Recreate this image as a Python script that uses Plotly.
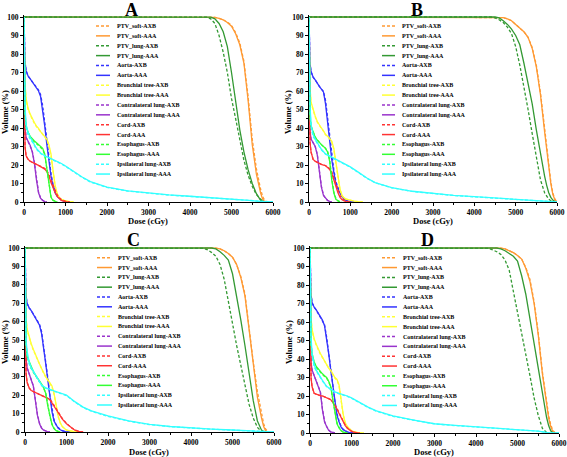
import plotly.graph_objects as go

W, H = 567, 457

# ---------------- data ----------------
OAR_DOSE = [0, 10, 25, 50, 100, 150, 200, 250, 300, 350, 400, 450, 500, 550, 600, 650, 700,
            750, 800, 850, 900, 1000, 1100, 1200, 1300, 1400, 1500]
LUNG_DOSE = [0, 10, 25, 50, 100, 150, 200, 300, 400, 500, 600, 700, 800, 900, 1000, 1200, 1400,
             1600, 1800, 2000, 2500, 3000, 3500, 4000, 4500, 5000, 5500, 5700, 5800, 6000]
PTV_DOSE = [0, 4200, 4300, 4400, 4500, 4600, 4700, 4800, 4900, 5000, 5100, 5200, 5300, 5400,
            5500, 5600, 5700, 5750, 5800, 5850, 5900, 5950, 6000]

# Panel A
A_PTV_SOFT_AXB = [100, 100, 100, 100, 100, 99.8, 99.3, 98.5, 97.2, 95.5, 91.5, 86, 76, 57, 34, 18, 7, 3, 0.8, 0.1, 0]
A_PTV_SOFT_AAA = [100, 100, 100, 100, 100, 99.8, 99.3, 98.5, 97, 95, 91, 85, 75, 55, 31, 15, 5, 1.5, 0.2, 0]
A_PTV_LUNG_AXB = [100, 100, 100, 99.9, 99, 96.5, 90, 81, 70, 56, 45, 33, 22.5, 14.5, 8.5, 4, 1.2, 0.4, 0]
A_PTV_LUNG_AAA = [100, 100, 100, 100, 99.9, 99, 96.5, 92, 84, 70, 55, 39, 27, 17.5, 10, 4.5, 1, 0.3, 0]
A_AORTA_AXB = [100, 88, 76, 71, 68, 66.5, 65, 63.5, 62, 60.5, 58, 52, 43, 33, 24, 15.5, 9.5, 5.5, 3.2, 2, 1.1, 0.3, 0]
A_AORTA_AAA = [100, 88, 76, 71, 68, 66.5, 65, 63.5, 62, 60, 57, 50, 41, 31, 22, 14, 8.5, 5, 3, 1.8, 1, 0.2, 0]
A_BRONCH_AXB = [100, 80, 63, 55, 50, 47, 44.5, 42.5, 40.8, 39.5, 38, 36.5, 35.2, 33.5, 30.5, 25, 16, 8.5, 4.2, 2.3, 1.3, 0.5, 0.1, 0]
A_BRONCH_AAA = [100, 80, 64, 56, 50.5, 47.5, 45, 43, 41, 39.8, 38, 36.5, 35.5, 34, 31, 26, 17, 9, 4.5, 2.5, 1.5, 0.6, 0.2, 0]
A_CONTRA_AXB = [100, 70, 40, 35, 32.5, 30.5, 27.5, 21.5, 12.5, 5.3, 2.2, 0.9, 0.3, 0]
A_CONTRA_AAA = [100, 70, 40, 35, 32.5, 30.5, 27, 21, 12, 5, 2, 0.8, 0.2, 0]
A_CORD_AXB = [100, 55, 30, 25, 23, 22, 21.3, 20.8, 20.3, 19.8, 19.3, 18.7, 18.2, 17, 15, 12, 9, 6, 3.8, 2.3, 1.3, 0.4, 0]
A_CORD_AAA = [100, 55, 30, 25, 23, 22, 21.3, 20.8, 20.3, 19.8, 19.2, 18.5, 17.8, 16.5, 14, 10.5, 7.5, 5, 3, 1.8, 0.9, 0.2, 0]
A_ESOPH_AXB = [100, 70, 47, 40, 37, 35, 33.5, 32.5, 31.5, 30.5, 29.5, 28.5, 25.5, 18, 8.5, 3, 1, 0.3, 0]
A_ESOPH_AAA = [100, 70, 48, 41, 37.5, 35.5, 34, 33, 32, 31, 30, 29, 26, 18, 8, 2.5, 0.8, 0.2, 0]
A_IPSI_AXB = [100, 74, 50, 40, 36, 34, 32.5, 28.5, 26.2, 24.8, 23.8, 22.8, 21.8, 20.6, 19.3, 16.3, 13.3, 10.8, 9.2, 7.9, 5.9, 4.6, 3.7, 3, 2.3, 1.5, 0.7, 0.3, 0.1, 0]
A_IPSI_AAA = [100, 75, 52, 42, 37.5, 35, 33, 29, 26.5, 25, 24, 23, 22, 20.8, 19.5, 16.5, 13.5, 11, 9.3, 8, 6, 4.7, 3.8, 3.1, 2.4, 1.6, 0.7, 0.3, 0.1, 0]

# Panel B
B_PTV_SOFT_AXB = [100, 100, 100, 100, 100, 100, 99.7, 99, 98, 96, 94, 92, 89, 83.5, 74, 59, 40, 30, 19.5, 11, 4.8, 1.5, 0.1]
B_PTV_SOFT_AAA = [100, 100, 100, 100, 100, 100, 99.7, 99, 98, 96, 94, 92, 89, 83, 73, 58, 38, 28, 18, 10, 4, 1.2, 0]
B_PTV_LUNG_AXB = [100, 100, 100, 100, 99.5, 98.5, 97, 94.5, 91, 84, 74, 63, 50, 37, 24, 12, 5, 3, 1.5, 0.7, 0.2, 0]
B_PTV_LUNG_AAA = [100, 100, 100, 100, 100, 99.5, 98, 96, 93.5, 90, 85, 75, 64, 53, 39, 26, 14, 9, 5, 2.5, 1, 0.2, 0]
B_AORTA_AXB = [100, 88, 75, 70.5, 67.5, 66, 64, 62.5, 61, 59.8, 55, 45, 34, 25, 17.5, 11, 7.5, 5, 3, 1.8, 0.9, 0.2, 0]
B_AORTA_AAA = [100, 88, 75, 70.5, 67.5, 66, 64, 62.5, 61, 59.5, 53, 42, 31, 23, 16, 10, 7, 4.5, 2.8, 1.7, 0.8, 0.2, 0]
B_BRONCH_AXB = [100, 78, 61, 53.5, 49.5, 46, 43.2, 41.2, 39.8, 38.3, 36.4, 35.4, 34.3, 32.5, 28.5, 21, 12.5, 6.6, 3.3, 2.1, 1.5, 0.8, 0.4, 0.1, 0]
B_BRONCH_AAA = [100, 78, 62, 54, 50, 46.5, 43.5, 41.5, 40, 38.5, 36.5, 35.5, 34.5, 33, 29, 22, 13, 7, 3.5, 2.2, 1.6, 0.9, 0.5, 0.2, 0]
B_CONTRA_AXB = [100, 65, 38, 34, 32, 30, 26, 16.5, 8.5, 3.8, 1.9, 0.9, 0.3, 0]
B_CONTRA_AAA = [100, 65, 38, 34, 32, 30, 25.5, 16, 8, 3.5, 1.8, 0.8, 0.3, 0]
B_CORD_AXB = [100, 55, 32, 27, 23, 22, 21.3, 20.8, 20.3, 20, 19.7, 18.9, 18.1, 16.5, 13.5, 10, 6.5, 3.5, 1.8, 0.9, 0.4, 0]
B_CORD_AAA = [100, 55, 32, 27, 23, 22, 21.3, 20.8, 20.3, 20, 19.6, 18.6, 17.6, 15.5, 12, 8, 5, 2.5, 1.2, 0.6, 0.2, 0]
B_ESOPH_AXB = [100, 68, 46, 41, 37.5, 35, 33.5, 32, 31, 30, 29, 27.3, 23, 13, 5.5, 2, 0.6, 0.1, 0]
B_ESOPH_AAA = [100, 68, 46, 41, 37.5, 35, 33.5, 32, 31, 30, 29, 27, 22, 12, 5, 1.5, 0.5, 0]
B_IPSI_AXB = [100, 74, 50, 40, 35.5, 33.5, 31.5, 28.2, 25.8, 24.6, 23.8, 22.3, 21.3, 19.8, 18.8, 15.8, 12.8, 10.4, 8.9, 7.7, 5.7, 4.4, 3.5, 2.8, 2.1, 1.4, 0.6, 0.3, 0.15, 0]
B_IPSI_AAA = [100, 75, 52, 42, 36.5, 34, 32, 28.5, 26, 24.8, 24, 22.5, 21.5, 20, 19, 16, 13, 10.5, 9, 7.8, 5.8, 4.5, 3.6, 2.9, 2.2, 1.4, 0.6, 0.3, 0.15, 0]

# Panel C
C_PTV_SOFT_AXB = [100, 100, 100, 100, 100, 99.9, 99.5, 98.5, 97, 95, 91, 84.5, 75, 56, 38, 22, 9.5, 4.5, 1.5, 0.2, 0]
C_PTV_SOFT_AAA = [100, 100, 100, 100, 100, 99.9, 99.5, 98.5, 97, 95, 91, 84, 74, 55, 36, 19, 7.6, 3, 0.5, 0]
C_PTV_LUNG_AXB = [100, 100, 99.8, 99, 97.5, 95.5, 91, 83, 72, 59, 47, 36, 25, 15, 7.6, 2.5, 0.3, 0]
C_PTV_LUNG_AAA = [100, 100, 100, 100, 100, 99.5, 98, 96, 93.5, 86, 74, 61, 47, 31, 17, 6, 1, 0.3, 0]
C_AORTA_AXB = [100, 87, 74, 70, 67.5, 66, 64, 62, 60.5, 58.5, 54.5, 47, 38.5, 29.5, 20, 12, 6.5, 3.8, 2.2, 1.3, 0.7, 0.1, 0]
C_AORTA_AAA = [100, 87, 74, 70, 67.5, 66, 64, 62, 60.5, 58, 53.5, 46, 37, 28, 19, 11, 6, 3.5, 2, 1.2, 0.6, 0.1, 0]
C_BRONCH_AXB = [100, 80, 62, 55.5, 51, 47.5, 44.5, 41.8, 39.3, 36.8, 34.3, 31.8, 29.8, 28.2, 26.7, 24.5, 20.5, 13.5, 8.2, 4.8, 2.9, 1, 0.4, 0.1, 0]
C_BRONCH_AAA = [100, 80, 62, 56, 51.5, 48, 45, 42, 39.5, 37, 34.5, 32, 30, 28.5, 27, 25, 21, 14, 8.5, 5, 3, 1, 0.4, 0.1, 0]
C_CONTRA_AXB = [100, 65, 40, 35, 31.5, 28, 25.2, 17.5, 9.5, 4.8, 2.2, 1.1, 0.4, 0.1, 0]
C_CONTRA_AAA = [100, 65, 40, 35, 31.5, 28, 25, 17, 9, 4.5, 2, 1, 0.4, 0.1, 0]
C_CORD_AXB = [100, 55, 32, 27, 24, 22.5, 22, 21.5, 21, 20.5, 20, 19.5, 19, 18.4, 17.7, 16.3, 14.4, 12.7, 10.8, 9, 7.3, 4.7, 2.6, 1.1, 0.3, 0]
C_CORD_AAA = [100, 55, 32, 27, 24, 22.5, 22, 21.5, 21, 20.5, 20, 19.5, 19, 18.3, 17.5, 16, 14, 12.3, 10.5, 8.7, 7, 4.5, 2.5, 1, 0.3, 0]
C_ESOPH_AXB = [100, 70, 48, 41, 37.5, 34.5, 32.5, 30.7, 29.2, 27.3, 25.8, 23.8, 21, 14.5, 8.5, 4.3, 2, 0.8, 0.2, 0]
C_ESOPH_AAA = [100, 70, 48, 41, 38, 35, 33, 31, 29.5, 27.5, 26, 24, 21, 14, 8, 4, 1.8, 0.7, 0.2, 0]
C_IPSI_AXB = [100, 74, 49, 42, 37, 34.5, 32.5, 28.7, 25.3, 23.8, 22.8, 22.1, 21.4, 20.7, 19.8, 16.3, 13.3, 11.3, 9.8, 8.5, 5.9, 4, 2.9, 2.1, 1.5, 1, 0.5, 0.2, 0, 0]
C_IPSI_AAA = [100, 75, 50, 44, 38, 35, 33, 29, 25.5, 24, 23, 22.3, 21.6, 20.9, 20, 16.5, 13.5, 11.5, 10, 8.7, 6, 4.1, 3, 2.2, 1.6, 1.1, 0.5, 0.2, 0, 0]

# Panel D
D_PTV_SOFT_AXB = [100, 100, 100, 100, 100, 99.9, 99.5, 98.7, 97.5, 96, 94, 89.5, 83, 71, 54, 33, 17, 9.5, 4.5, 1.5, 0.3, 0]
D_PTV_SOFT_AAA = [100, 100, 100, 100, 100, 99.9, 99.5, 98.7, 97.5, 96, 94, 89, 82, 70, 53, 32, 15, 8, 3.5, 0.8, 0.1, 0]
D_PTV_LUNG_AXB = [100, 100, 99.8, 99, 98, 96.5, 93.5, 88, 77, 66, 54, 43, 31, 19, 9.5, 2.5, 0.3, 0]
D_PTV_LUNG_AAA = [100, 100, 100, 100, 100, 99.5, 98.5, 97, 95.5, 93, 85, 75, 62, 48, 35, 21, 8.5, 4, 1.2, 0.1, 0]
D_AORTA_AXB = [100, 88, 75, 70.5, 68, 66.5, 64.5, 62.5, 61, 58.5, 52, 44, 35, 26, 17, 10.5, 6.5, 3.5, 2, 1.1, 0.6, 0.1, 0]
D_AORTA_AAA = [100, 88, 75, 70.5, 68, 66.5, 64.5, 62.5, 61, 58, 51, 43, 34, 25, 16, 9.5, 6, 3.2, 1.8, 1, 0.5, 0.1, 0]
D_BRONCH_AXB = [100, 78, 62, 55.5, 50.5, 47.5, 44.5, 42.5, 40.7, 38.8, 36.8, 34.8, 33.7, 31.7, 29.7, 28.5, 25.5, 17.5, 9.7, 5.3, 3.4, 1.2, 0.4, 0.1, 0]
D_BRONCH_AAA = [100, 78, 62, 56, 51, 48, 45, 43, 41, 39, 37, 35, 34, 32, 30, 29, 26, 18, 10, 5.5, 3.5, 1.2, 0.4, 0.1, 0]
D_CONTRA_AXB = [100, 60, 38, 34, 31, 29, 25.7, 22.3, 13, 6.3, 3.6, 1.6, 0.6, 0.2, 0]
D_CONTRA_AAA = [100, 60, 38, 34, 31, 29, 25.5, 22, 12.5, 6, 3.5, 1.5, 0.6, 0.2, 0]
D_CORD_AXB = [100, 50, 30, 25, 21.5, 21, 20.5, 20.2, 20, 19.5, 19, 18.6, 18.1, 16.8, 15.4, 13.4, 11, 8.5, 6.4, 4.3, 2.7, 1, 0.25, 0]
D_CORD_AAA = [100, 50, 30, 25, 21.5, 21, 20.5, 20.2, 20, 19.5, 19, 18.5, 18, 16.5, 15, 13, 10.5, 8, 6, 4, 2.5, 0.9, 0.2, 0]
D_ESOPH_AXB = [100, 70, 47.5, 42, 38, 35.5, 34, 32.6, 31.6, 30.6, 29.6, 27.7, 24.8, 18, 11, 5.5, 3, 1.3, 0.5, 0.1, 0]
D_ESOPH_AAA = [100, 70, 48, 43, 38.5, 36, 34.5, 33, 32, 31, 30, 28, 25, 18, 10.5, 5, 2.7, 1.2, 0.5, 0.1, 0]
D_IPSI_AXB = [100, 74, 50, 41.5, 36, 33.5, 31.6, 28.2, 25, 23.3, 22, 21.2, 20.6, 19.8, 18.8, 16.3, 13.8, 11.8, 10.3, 9, 6.9, 4.9, 4, 3.2, 2.5, 1.9, 1, 0.3, 0.05, 0]
D_IPSI_AAA = [100, 75, 52, 43, 37, 34, 32, 28.5, 25.2, 23.5, 22.2, 21.4, 20.8, 20, 19, 16.5, 14, 12, 10.5, 9.2, 7, 5, 4.1, 3.3, 2.6, 2, 1, 0.3, 0.05, 0]

STRUCT_NAMES = ["PTV_soft", "PTV_lung", "Aorta", "Bronchial tree", "Contralateral lung",
                "Cord", "Esophagus", "Ipsilateral lung"]
ALGOS = ["AXB", "AAA"]
PANEL_LABELS = ["A", "B", "C", "D"]
X_TICKS = [0, 1000, 2000, 3000, 4000, 5000, 6000]
Y_TICKS = [0, 10, 20, 30, 40, 50, 60, 70, 80, 90, 100]

# ---------------- styling ----------------
COLORS = ["#FF9933", "#339933", "#3333FF", "#FFFF33", "#9933CC", "#FF3333", "#33FF33", "#33FFFF"]
DOSE_GRIDS = [PTV_DOSE, PTV_DOSE, OAR_DOSE, OAR_DOSE, OAR_DOSE, OAR_DOSE, OAR_DOSE, LUNG_DOSE]
DASH = "3px,2px"
FONT = "Liberation Serif"

PANEL_SERIES = {
    "A": [(A_PTV_SOFT_AXB, A_PTV_SOFT_AAA), (A_PTV_LUNG_AXB, A_PTV_LUNG_AAA), (A_AORTA_AXB, A_AORTA_AAA),
          (A_BRONCH_AXB, A_BRONCH_AAA), (A_CONTRA_AXB, A_CONTRA_AAA), (A_CORD_AXB, A_CORD_AAA),
          (A_ESOPH_AXB, A_ESOPH_AAA), (A_IPSI_AXB, A_IPSI_AAA)],
    "B": [(B_PTV_SOFT_AXB, B_PTV_SOFT_AAA), (B_PTV_LUNG_AXB, B_PTV_LUNG_AAA), (B_AORTA_AXB, B_AORTA_AAA),
          (B_BRONCH_AXB, B_BRONCH_AAA), (B_CONTRA_AXB, B_CONTRA_AAA), (B_CORD_AXB, B_CORD_AAA),
          (B_ESOPH_AXB, B_ESOPH_AAA), (B_IPSI_AXB, B_IPSI_AAA)],
    "C": [(C_PTV_SOFT_AXB, C_PTV_SOFT_AAA), (C_PTV_LUNG_AXB, C_PTV_LUNG_AAA), (C_AORTA_AXB, C_AORTA_AAA),
          (C_BRONCH_AXB, C_BRONCH_AAA), (C_CONTRA_AXB, C_CONTRA_AAA), (C_CORD_AXB, C_CORD_AAA),
          (C_ESOPH_AXB, C_ESOPH_AAA), (C_IPSI_AXB, C_IPSI_AAA)],
    "D": [(D_PTV_SOFT_AXB, D_PTV_SOFT_AAA), (D_PTV_LUNG_AXB, D_PTV_LUNG_AAA), (D_AORTA_AXB, D_AORTA_AAA),
          (D_BRONCH_AXB, D_BRONCH_AAA), (D_CONTRA_AXB, D_CONTRA_AAA), (D_CORD_AXB, D_CORD_AAA),
          (D_ESOPH_AXB, D_ESOPH_AAA), (D_IPSI_AXB, D_IPSI_AAA)],
}

# pixel layout of each panel: x0px, x6000px, y0px (vol 0), y100px (vol 100)
PANEL_PX = {
    "A": dict(x0=24, x1=273, y0=202, y100=17, title=(131, 10), xlab=(148, 220.5), ylab=(5, 112),
              leg=(96, 110, 115, 26, 9.87)),
    "B": dict(x0=309, x1=557, y0=202, y100=17, title=(417, 10), xlab=(433, 220.5), ylab=(288, 112),
              leg=(382, 395, 400, 26, 9.87)),
    "C": dict(x0=25, x1=274, y0=432, y100=248, title=(133, 240), xlab=(149, 451.5), ylab=(5, 342),
              leg=(97, 112, 116, 257.7, 9.82)),
    "D": dict(x0=310, x1=559, y0=433, y100=248, title=(427, 240), xlab=(434, 451.5), ylab=(289, 342),
              leg=(382, 397, 401, 257.7, 9.85)),
}

YMAX = 101


def px(x):
    return x / W


def py(y):
    return 1 - y / H


fig = go.Figure()
layout = {}
annotations = []
shapes = []

for i, p in enumerate(PANEL_LABELS):
    sfx = "" if i == 0 else str(i + 1)
    xa, ya = "x" + sfx, "y" + sfx
    g = PANEL_PX[p]
    per = (g["y0"] - g["y100"]) / 100.0
    ytop_px = g["y0"] - YMAX * per
    axfont = dict(family=FONT, size=7.5, color="black", weight="bold")
    layout["xaxis" + sfx] = dict(
        domain=[px(g["x0"]), px(g["x1"])], anchor=ya, range=[0, 6000], tickvals=X_TICKS,
        showline=True, linecolor="black", linewidth=1, ticks="outside", ticklen=3, tickwidth=1,
        tickcolor="black", showgrid=False, zeroline=False, tickfont=axfont, automargin=False,
        minor=dict(ticks="outside", ticklen=2, tickwidth=1, tickcolor="black", dtick=500, showgrid=False),
    )
    layout["yaxis" + sfx] = dict(
        domain=[py(g["y0"]), py(ytop_px)], anchor=xa, range=[0, YMAX], tickvals=Y_TICKS,
        showline=True, linecolor="black", linewidth=1, ticks="outside", ticklen=3, tickwidth=1,
        tickcolor="black", showgrid=False, zeroline=False, tickfont=axfont, automargin=False,
        minor=dict(ticks="outside", ticklen=2, tickwidth=1, tickcolor="black", dtick=5, showgrid=False),
    )
    for s, name in enumerate(STRUCT_NAMES):
        for a, algo in enumerate(ALGOS):
            vals = PANEL_SERIES[p][s][a]
            fig.add_trace(go.Scatter(
                x=DOSE_GRIDS[s][:len(vals)], y=vals, mode="lines", xaxis=xa, yaxis=ya,
                name=f"{name}-{algo}", showlegend=False,
                line=dict(color=COLORS[s], width=1.3, dash=DASH if algo == "AXB" else "solid"),
            ))
    # panel title and axis titles
    annotations.append(dict(text=f"<b>{p}</b>", x=px(g["title"][0]), y=py(g["title"][1]), xref="paper",
                            yref="paper", showarrow=False, xanchor="center", yanchor="middle",
                            font=dict(family=FONT, size=18, color="black")))
    annotations.append(dict(text="<b>Dose (cGy)</b>", x=px(g["xlab"][0]), y=py(g["xlab"][1]), xref="paper",
                            yref="paper", showarrow=False, xanchor="center", yanchor="middle",
                            font=dict(family=FONT, size=8.5, color="black")))
    annotations.append(dict(text="<b>Volume (%)</b>", x=px(g["ylab"][0]), y=py(g["ylab"][1]), xref="paper",
                            yref="paper", showarrow=False, xanchor="center", yanchor="middle", textangle=-90,
                            font=dict(family=FONT, size=8.5, color="black")))
    # manual legend
    lx0, lx1, tx, ly0, dy = g["leg"]
    k = 0
    for s, name in enumerate(STRUCT_NAMES):
        for a, algo in enumerate(ALGOS):
            yy = ly0 + k * dy
            shapes.append(dict(type="line", xref="paper", yref="paper", x0=px(lx0), x1=px(lx1),
                               y0=py(yy), y1=py(yy),
                               line=dict(color=COLORS[s], width=1.5, dash=DASH if algo == "AXB" else "solid")))
            annotations.append(dict(text=f"<b>{name}-{algo}</b>", x=px(tx), y=py(yy), xref="paper", yref="paper",
                                    showarrow=False, xanchor="left", yanchor="middle",
                                    font=dict(family=FONT, size=6, color="black")))
            k += 1

fig.update_layout(
    width=W, height=H, margin=dict(l=0, r=0, t=0, b=0, autoexpand=False), paper_bgcolor="white",
    plot_bgcolor="white", showlegend=False, annotations=annotations, shapes=shapes, **layout,
)

fig.write_html("out.html", config={"displayModeBar": False},
               post_script="document.body.style.margin='0';document.body.style.overflow='hidden';")
